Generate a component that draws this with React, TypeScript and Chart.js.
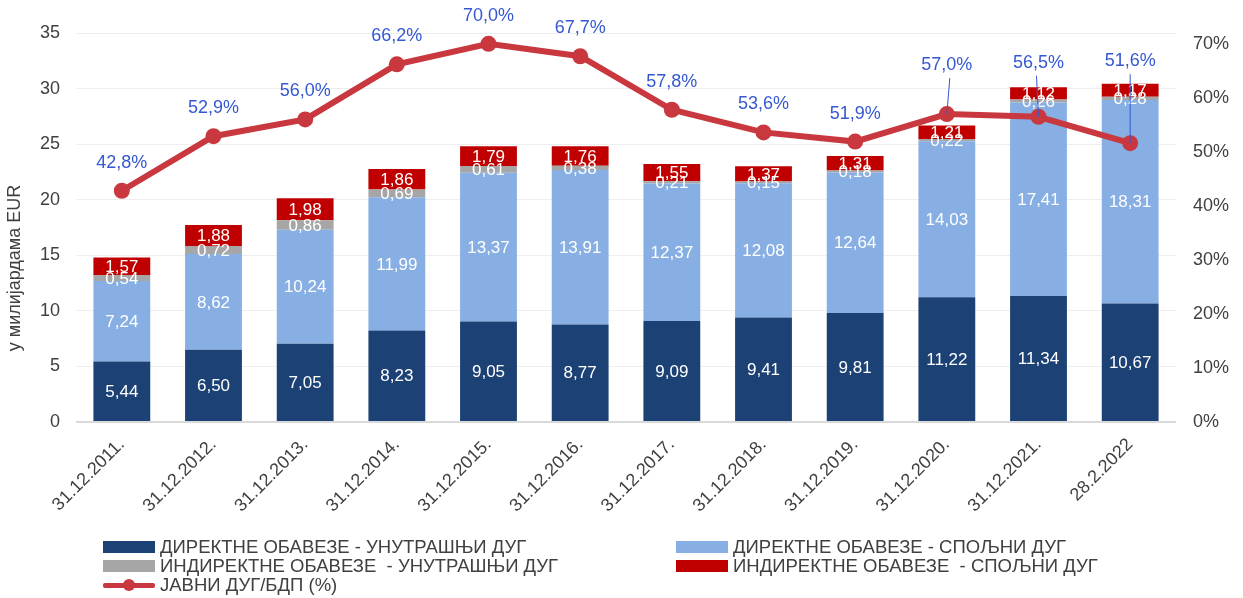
import React, { useEffect, useRef } from 'react';
import { Chart, registerables } from 'chart.js';

Chart.register(...registerables);

const categories = [
  '31.12.2011.', '31.12.2012.', '31.12.2013.', '31.12.2014.', '31.12.2015.', '31.12.2016.',
  '31.12.2017.', '31.12.2018.', '31.12.2019.', '31.12.2020.', '31.12.2021.', '28.2.2022',
];
const directDomestic = [5.44, 6.5, 7.05, 8.23, 9.05, 8.77, 9.09, 9.41, 9.81, 11.22, 11.34, 10.67];
const directExternal = [7.24, 8.62, 10.24, 11.99, 13.37, 13.91, 12.37, 12.08, 12.64, 14.03, 17.41, 18.31];
const indirectDomestic = [0.54, 0.72, 0.86, 0.69, 0.61, 0.38, 0.21, 0.15, 0.18, 0.22, 0.26, 0.28];
const indirectExternal = [1.57, 1.88, 1.98, 1.86, 1.79, 1.76, 1.55, 1.37, 1.31, 1.21, 1.12, 1.17];
const debtToGdp = [42.8, 52.9, 56.0, 66.2, 70.0, 67.7, 57.8, 53.6, 51.9, 57.0, 56.5, 51.6];
const leftTicks = [0, 5, 10, 15, 20, 25, 30, 35];
const rightTicks = [0, 10, 20, 30, 40, 50, 60, 70];

const seriesNames = [
  'ДИРЕКТНЕ ОБАВЕЗЕ - УНУТРАШЊИ ДУГ',
  'ДИРЕКТНЕ ОБАВЕЗЕ - СПОЉНИ ДУГ',
  'ИНДИРЕКТНЕ ОБАВЕЗЕ  - УНУТРАШЊИ ДУГ',
  'ИНДИРЕКТНЕ ОБАВЕЗЕ  - СПОЉНИ ДУГ',
  'ЈАВНИ ДУГ/БДП (%)',
];
const yAxisTitle = 'у милијардама EUR';

const COLORS = {
  dark: '#1C4175',
  light: '#87AFE3',
  gray: '#A6A6A6',
  red: '#C00000',
  line: '#C9373F',
  pctLabel: '#3558D2',
  text: '#404040',
};
const FONT = "'Liberation Sans', Arial, sans-serif";

const fmt = (v: number, d: number) => v.toFixed(d).replace('.', ',');

const barLabelsPlugin = {
  id: 'barLabels',
  afterDatasetDraw(chart: any, args: any) {
    // bars are drawn from the top of the stack downward; index 0 is drawn last
    if (args.index !== 0) return;
    const ctx = chart.ctx;
    ctx.save();
    ctx.font = `17px ${FONT}`;
    ctx.fillStyle = '#FFFFFF';
    ctx.textAlign = 'center';
    ctx.textBaseline = 'middle';
    chart.data.datasets.forEach((ds: any, di: number) => {
      if (ds.type === 'line') return;
      const meta = chart.getDatasetMeta(di);
      meta.data.forEach((el: any, i: number) => {
        const y = (el.y + el.base) / 2;
        ctx.fillText(fmt(ds.data[i], 2), el.x, y + 1);
      });
    });
    ctx.restore();
  },
};

const pctLabelsPlugin = {
  id: 'pctLabels',
  afterDatasetsDraw(chart: any, _args: any, opts: any) {
    const idx = chart.data.datasets.findIndex((d: any) => d.type === 'line');
    if (idx < 0) return;
    const meta = chart.getDatasetMeta(idx);
    const ds = chart.data.datasets[idx];
    const ctx = chart.ctx;
    const lifts = opts.lifts || {};
    ctx.save();
    ctx.font = `18px ${FONT}`;
    ctx.fillStyle = COLORS.pctLabel;
    ctx.strokeStyle = COLORS.pctLabel;
    ctx.lineWidth = 1;
    ctx.textAlign = 'center';
    ctx.textBaseline = 'middle';
    meta.data.forEach((el: any, i: number) => {
      const lift = lifts[i] ?? opts.defaultLift;
      const ly = el.y - lift;
      if (lifts[i] !== undefined) {
        ctx.beginPath();
        ctx.moveTo(el.x + (opts.leanX?.[i] ?? 0), ly + 13);
        ctx.lineTo(el.x, el.y);
        ctx.stroke();
      }
      ctx.fillText(fmt(ds.data[i], 1) + '%', el.x, ly);
    });
    ctx.restore();
  },
};

const yTitlePlugin = {
  id: 'yTitle',
  afterDraw(chart: any, _args: any, opts: any) {
    const ctx = chart.ctx;
    ctx.save();
    ctx.translate(opts.x, opts.y);
    ctx.rotate(-Math.PI / 2);
    ctx.font = `18px ${FONT}`;
    ctx.fillStyle = COLORS.text;
    ctx.textAlign = 'center';
    ctx.textBaseline = 'middle';
    ctx.fillText(yAxisTitle, 0, 0);
    ctx.restore();
  },
};

function LegendItem({ left, top, kind, color, label }: any) {
  return (
    <div style={{ position: 'absolute', left, top: top - 11, height: 22, display: 'flex', alignItems: 'center', whiteSpace: 'pre' }}>
      {kind === 'bar' ? (
        <div style={{ width: 52, height: 12, background: color }} />
      ) : (
        <div style={{ width: 52, height: 12, position: 'relative' }}>
          <div style={{ position: 'absolute', left: 0, top: 4, width: 52, height: 5, background: color, borderRadius: 2 }} />
          <div style={{ position: 'absolute', left: 20, top: 0, width: 12, height: 12, background: color, borderRadius: 6 }} />
        </div>
      )}
      <span style={{ marginLeft: 5, font: `18.5px ${FONT}`, color: COLORS.text, lineHeight: '22px' }}>{label}</span>
    </div>
  );
}

export default function App() {
  const ref = useRef<HTMLCanvasElement | null>(null);
  useEffect(() => {
    if (!ref.current) return;
    Chart.defaults.font.family = FONT;
    const barCommon = { stack: 's', yAxisID: 'y', order: 1, barPercentage: 0.62, categoryPercentage: 1 };
    const chart = new Chart(ref.current, {
      type: 'bar',
      data: {
        labels: categories,
        datasets: [
          { type: 'bar', label: seriesNames[0], data: directDomestic, backgroundColor: COLORS.dark, ...barCommon },
          { type: 'bar', label: seriesNames[1], data: directExternal, backgroundColor: COLORS.light, ...barCommon },
          { type: 'bar', label: seriesNames[2], data: indirectDomestic, backgroundColor: COLORS.gray, ...barCommon },
          { type: 'bar', label: seriesNames[3], data: indirectExternal, backgroundColor: COLORS.red, ...barCommon },
          {
            type: 'line', label: seriesNames[4], data: debtToGdp, yAxisID: 'y1', order: 0,
            borderColor: COLORS.line, backgroundColor: COLORS.line, borderWidth: 6,
            pointRadius: 8, pointBackgroundColor: COLORS.line, pointBorderColor: COLORS.line, pointBorderWidth: 0,
            tension: 0,
          } as any,
        ],
      },
      options: {
        animation: false,
        responsive: false,
        maintainAspectRatio: false,
        layout: { padding: { top: 33, left: 0, right: 0, bottom: 56 } },
        plugins: {
          legend: { display: false },
          tooltip: { enabled: false },
          pctLabels: { defaultLift: 28, lifts: { 9: 49, 10: 54, 11: 82 }, leanX: { 9: 3, 10: -2, 11: 0 } },
          yTitle: { x: 15, y: 268 },
        } as any,
        scales: {
          x: {
            stacked: true,
            grid: { display: false },
            border: { display: false },
            ticks: { color: COLORS.text, font: { size: 18 }, minRotation: 45, maxRotation: 45, padding: 4, autoSkip: false },
            afterFit: (s: any) => { s.height = 120; s.paddingLeft = 0; s.paddingRight = 0; },
          },
          y: {
            stacked: true,
            position: 'left',
            min: 0, max: 35,
            grid: {
              drawTicks: false,
              color: (c: any) => (c.tick && c.tick.value === 0 ? '#D9D9D9' : '#EEEEEE'),
              lineWidth: (c: any) => (c.tick && c.tick.value === 0 ? 2 : 1),
            },
            border: { display: false },
            ticks: { color: COLORS.text, font: { size: 18 }, padding: 16 },
            afterBuildTicks: (s: any) => { s.ticks = leftTicks.map((v) => ({ value: v })); },
            afterFit: (s: any) => { s.width = 76; s.paddingTop = 0; s.paddingBottom = 0; },
          },
          y1: {
            position: 'right',
            min: 0, max: 72,
            grid: { display: false, drawTicks: false },
            border: { display: false },
            ticks: {
              color: COLORS.text, font: { size: 18 }, padding: 17,
              callback: (v: any) => `${v}%`,
            },
            afterBuildTicks: (s: any) => { s.ticks = rightTicks.map((v) => ({ value: v })); },
            afterFit: (s: any) => { s.width = 67; s.paddingTop = 0; s.paddingBottom = 0; },
          },
        },
      },
      plugins: [barLabelsPlugin, pctLabelsPlugin, yTitlePlugin],
    });
    return () => chart.destroy();
  }, []);

  const rows = [547, 566, 585];
  return (
    <div style={{ position: 'fixed', left: 0, top: 0, width: 1243, height: 598, background: '#fff', overflow: 'hidden' }}>
      <canvas ref={ref} width={1243} height={598} style={{ position: 'absolute', left: 0, top: 0, width: 1243, height: 598 }} />
      <LegendItem left={103} top={rows[0]} kind="bar" color={COLORS.dark} label={seriesNames[0]} />
      <LegendItem left={676} top={rows[0]} kind="bar" color={COLORS.light} label={seriesNames[1]} />
      <LegendItem left={103} top={rows[1]} kind="bar" color={COLORS.gray} label={seriesNames[2]} />
      <LegendItem left={676} top={rows[1]} kind="bar" color={COLORS.red} label={seriesNames[3]} />
      <LegendItem left={103} top={rows[2]} kind="line" color={COLORS.line} label={seriesNames[4]} />
    </div>
  );
}
